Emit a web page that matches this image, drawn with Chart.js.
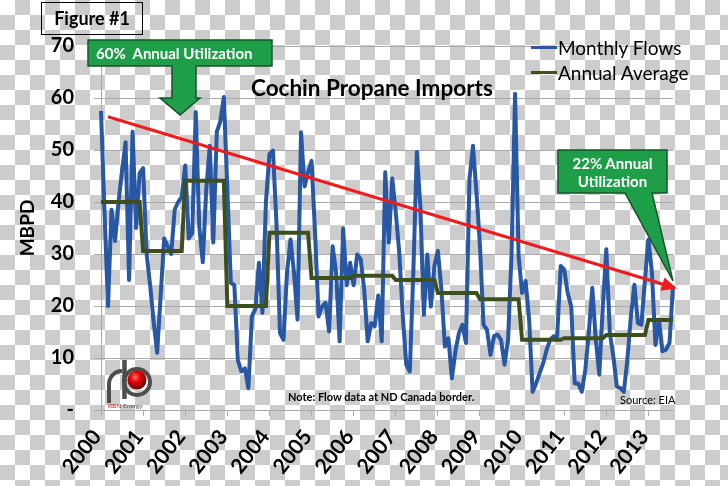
<!DOCTYPE html>
<html>
<head>
<meta charset="utf-8">
<title>Cochin Propane Imports</title>
<script src="https://cdn.jsdelivr.net/npm/chart.js@4.4.1/dist/chart.umd.min.js"></script>
<style>
  html, body { margin: 0; padding: 0; }
  body {
    width: 728px;
    height: 486px;
    overflow: hidden;
    background: repeating-conic-gradient(#cccccc 0 25%, #ffffff 0 50%) 0 0 / 30px 30px;
    font-family: "Lato", "Open Sans", sans-serif;
  }
  #wrap { position: relative; width: 728px; height: 486px; }
  #chart { position: absolute; left: 0; top: 0; }
  .ov { position: absolute; white-space: nowrap; color: #000; }
  #fig {
    left: 41px; top: 2px; width: 100px; height: 31px;
    border: 1.5px solid #000;
    font-weight: bold; font-size: 18px; line-height: 31px; text-align: center;
  }
  #title { left: 251px; top: 75px; font-weight: bold; font-size: 22.5px; line-height: 26px; }
  .lg-line { position: absolute; left: 531px; width: 26px; height: 3px; }
  .lg-text { left: 558px; font-size: 19px; line-height: 20px; }
  .callout-text { color: #fff; font-weight: bold; font-size: 15px; text-align: center; }
  #note { left: 288px; top: 390px; font-weight: bold; font-size: 11px; line-height: 14px; }
  #source { left: 620px; top: 393px; font-size: 11px; line-height: 14px; }
  svg { position: absolute; left: 0; top: 0; pointer-events: none; }
</style>
</head>
<body>
<div id="wrap">
  <canvas id="chart" width="728" height="486"></canvas>

  <svg width="728" height="486" viewBox="0 0 728 486">
    <defs>
      <radialGradient id="ball" cx="0.4" cy="0.35" r="0.65">
        <stop offset="0" stop-color="#ff6a6a"/>
        <stop offset="0.45" stop-color="#e00000"/>
        <stop offset="1" stop-color="#6a0000"/>
      </radialGradient>
    </defs>
    <!-- callouts -->
    <path d="M88 40 H272 V66 H196 V98 H200 L180 115 L160 98 H172 V66 H88 Z"
          fill="#1f9e4a" stroke="#17532b" stroke-width="1.5"/>
    <path d="M558 150 H667 V193 H652 L673 281 L625 193 H558 Z"
          fill="#1f9e4a" stroke="#17532b" stroke-width="1.5"/>
    <!-- RBN logo -->
    <path d="M109 403 V384 A13 13 0 0 1 122 371" fill="none" stroke="#4d4d4d" stroke-width="4"/>
    <path d="M124.5 360 V399" fill="none" stroke="#4d4d4d" stroke-width="4.5"/>
    <circle cx="137" cy="382" r="13" fill="none" stroke="#4d4d4d" stroke-width="4"/>
    <circle cx="137" cy="380" r="9.5" fill="url(#ball)"/>
    <text x="108" y="408" font-size="6.5" font-family="Lato, sans-serif"><tspan fill="#d01010">RBN</tspan><tspan fill="#555"> Energy</tspan></text>
  </svg>

  <div id="fig" class="ov">Figure #1</div>
  <div id="title" class="ov">Cochin Propane Imports</div>

  <div class="lg-line" style="top:46px;background:#2857a4"></div>
  <div class="ov lg-text" style="top:38px">Monthly Flows</div>
  <div class="lg-line" style="top:71px;background:#3d4f1f"></div>
  <div class="ov lg-text" style="top:63px">Annual Average</div>

  <div class="ov callout-text" style="left:96px;top:44px;line-height:18px;white-space:pre">60%  Annual Utilization</div>
  <div class="ov callout-text" style="left:558px;top:154px;width:109px;line-height:18px">22% Annual<br>Utilization</div>

  <div id="note" class="ov">Note: Flow data at ND Canada border.</div>
  <div id="source" class="ov">Source: EIA</div>
</div>

<script>
var years = [2000, 2001, 2002, 2003, 2004, 2005, 2006, 2007, 2008, 2009, 2010, 2011, 2012, 2013];

// MBPD, one value per month from Jan 2000 to Aug 2013
var monthlyFlows = [
  57.5, 38, 20, 38.5, 32.5, 40, 46, 51.5, 25, 53.5, 35, 45.5,
  46.5, 30, 24, 17, 11, 22, 33, 31.5, 30, 38.5, 40, 41,
  47, 33, 34, 57.3, 35.3, 28.4, 42.5, 50.8, 32.2, 53.5, 55.5, 60.2,
  42.5, 24.5, 24, 9.6, 7.4, 8, 4.2, 18, 19.5, 28.3, 18.7, 40,
  49.2, 49.9, 36, 14.8, 13.5, 26.4, 32.8, 26.4, 17.4, 53.4, 43, 45.7,
  47.9, 34, 18, 19.9, 20.6, 15.1, 31.5, 26.4, 13.2, 34.9, 24, 28.3,
  24, 29.9, 29, 23.2, 13.2, 16.7, 16.1, 22, 13.2, 45.7, 32.2, 44.5,
  38, 30.2, 18, 8.7, 7.4, 26.4, 49.6, 39.2, 18.3, 29.9, 19.9, 27.7,
  30.6, 23.2, 12.2, 13.8, 6.1, 11.3, 14.8, 16.4, 12.9, 44.4, 50.8, 41.8,
  31.5, 16.4, 15.4, 10.6, 14.2, 14.5, 13.5, 8.7, 13.5, 30.2, 60.8, 29.6,
  22.5, 24.8, 17.4, 3.5, 5.1, 7.1, 9, 11.6, 13.5, 14.2, 14.2, 27.7,
  27, 22.5, 19.9, 5.1, 5.1, 3.5, 7.7, 14.8, 23.5, 13.5, 6.8, 19.9,
  30.9, 14.8, 10.3, 4.5, 4.2, 3.5, 9.7, 18, 24.1, 16.7, 16.4, 25,
  32.8, 26.4, 12.5, 17.4, 11.3, 11.6, 12.9, 23.8
];

var annualAverage = [40, 30.6, 44.1, 20, 34.1, 25.4, 25.8, 25, 22.5, 21.3, 13.5, 13.8, 14.4, 17.3];

// red trend arrow: value at its start month and at the last month
var trendStartIndex = 2;
var trendValues = [56.4, 23.6];

var yTicks = [0, 10, 20, 30, 40, 50, 60, 70];

var BLUE = "#2857a4";
var OLIVE = "#3d4f1f";
var RED = "#ee1c1c";
var AXIS = "#a9a9a9";

var monthLabels = [];
years.forEach(function (y) {
  for (var m = 1; m <= 12; m++) monthLabels.push(y + "-" + m);
});
monthLabels = monthLabels.slice(0, monthlyFlows.length);

var annualSeries = monthlyFlows.map(function (v, i) {
  return annualAverage[Math.floor(i / 12)];
});

var lastIndex = monthlyFlows.length - 1;
var trendSeries = monthlyFlows.map(function (v, i) {
  if (i === trendStartIndex) return trendValues[0];
  if (i === lastIndex) return trendValues[1];
  return null;
});

Chart.defaults.font.family = 'Lato, "Open Sans", sans-serif';
Chart.defaults.color = "#000";

var arrowHead = {
  id: "arrowHead",
  afterDatasetsDraw: function (chart) {
    var meta = chart.getDatasetMeta(2);
    var a = meta.data[trendStartIndex];
    var b = meta.data[lastIndex];
    if (!a || !b) return;
    var ang = Math.atan2(b.y - a.y, b.x - a.x);
    var c = Math.cos(ang), s = Math.sin(ang);
    var tipX = b.x + 4 * c, tipY = b.y + 4 * s;
    var len = 15, half = 7;
    var ctx = chart.ctx;
    ctx.save();
    ctx.fillStyle = RED;
    ctx.beginPath();
    ctx.moveTo(tipX, tipY);
    ctx.lineTo(tipX - len * c + half * s, tipY - len * s - half * c);
    ctx.lineTo(tipX - len * c - half * s, tipY - len * s + half * c);
    ctx.closePath();
    ctx.fill();
    ctx.restore();
  }
};

new Chart(document.getElementById("chart").getContext("2d"), {
  type: "line",
  data: {
    labels: monthLabels,
    datasets: [
      {
        label: "Monthly Flows",
        data: monthlyFlows,
        borderColor: BLUE,
        borderWidth: 4,
        pointRadius: 0,
        borderJoinStyle: "round",
        order: 3
      },
      {
        label: "Annual Average",
        data: annualSeries,
        borderColor: OLIVE,
        borderWidth: 4,
        pointRadius: 0,
        order: 2
      },
      {
        label: "Trend",
        data: trendSeries,
        borderColor: RED,
        borderWidth: 3,
        pointRadius: 0,
        spanGaps: true,
        order: 1
      }
    ]
  },
  options: {
    responsive: false,
    animation: false,
    devicePixelRatio: 1,
    layout: { padding: { top: 46, right: 55, left: 0, bottom: 0 } },
    plugins: {
      legend: { display: false },
      tooltip: { enabled: false },
      title: { display: false }
    },
    scales: {
      x: {
        type: "category",
        afterFit: function (scale) { scale.height = 76; },
        border: { display: true, color: AXIS, width: 1 },
        grid: {
          drawOnChartArea: false,
          drawTicks: true,
          tickLength: 6,
          color: function (c) { return c.index % 12 === 0 ? AXIS : "rgba(0,0,0,0)"; }
        },
        ticks: {
          autoSkip: false,
          minRotation: 52,
          maxRotation: 52,
          padding: 9,
          labelOffset: -4,
          font: { size: 21, weight: "bold" },
          color: "#000",
          callback: function (v, i) { return i % 12 === 0 ? String(years[i / 12]) : ""; }
        }
      },
      y: {
        min: yTicks[0],
        max: yTicks[yTicks.length - 1],
        afterFit: function (scale) { scale.width = 101; },
        afterBuildTicks: function (scale) {
          scale.ticks = yTicks.map(function (v) { return { value: v }; });
        },
        border: { display: true, color: AXIS, width: 1 },
        grid: { color: AXIS, lineWidth: 1, drawTicks: true, tickLength: 7 },
        ticks: {
          padding: 20,
          font: { size: 20, weight: "bold" },
          color: "#000",
          callback: function (v) { return v === 0 ? "-" : String(v); }
        },
        title: {
          display: true,
          text: "MBPD",
          font: { size: 19, weight: "bold" },
          color: "#000",
          padding: { top: 16, bottom: 0 }
        }
      }
    }
  },
  plugins: [arrowHead]
});
</script>
</body>
</html>
